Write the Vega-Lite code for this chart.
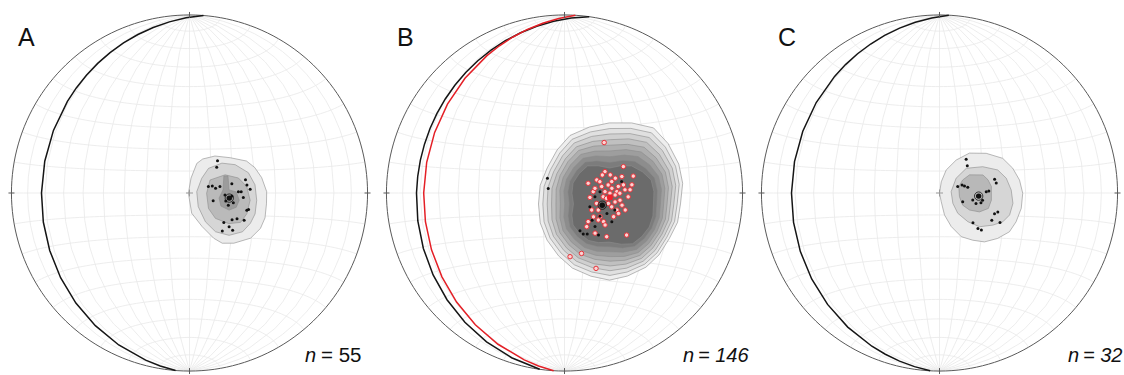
{
  "$schema": "https://vega.github.io/schema/vega-lite/v6.json",
  "padding": 0,
  "bounds": "flush",
  "spacing": 0,
  "config": {"view": {"stroke": null}, "font": "Liberation Sans"},
  "resolve": {"scale": {"fill": "independent"}},
  "hconcat": [
    {
      "width": 375, "height": 375,
      "projection": {"type": "azimuthalEqualArea", "scale": 125.9, "translate": [189.5, 193], "clipAngle": 90},
      "layer": [
        {"data": {"graticule": {"step": [10, 10]}}, "mark": {"type": "geoshape", "filled": false, "stroke": "#e9e9e9", "strokeWidth": 0.8}},
        {"data": {"values": [
          {"type": "Feature", "properties": {"level": 1}, "geometry": {"type": "Polygon", "coordinates": [[[6.2,15.5],[12.0,16.8],[19.1,15.9],[26.8,14.2],[30.5,11.2],[33.5,6.7],[35.7,0.6],[35.7,-4.7],[35.4,-10.8],[33.7,-15.5],[29.5,-20.0],[21.6,-22.6],[15.9,-22.8],[11.6,-20.6],[5.9,-15.3],[1.0,-9.2],[-0.5,-0.1],[0.7,6.8],[3.4,13.5],[6.2,15.5]]]}},
          {"type": "Feature", "properties": {"level": 2}, "geometry": {"type": "Polygon", "coordinates": [[[15.1,13.5],[21.3,12.7],[27.3,9.0],[30.2,3.6],[31.0,-3.2],[30.5,-9.2],[28.6,-13.4],[25.2,-17.3],[18.9,-19.1],[12.3,-17.6],[7.4,-13.1],[4.0,-6.2],[3.3,0.6],[5.6,6.7],[8.8,11.2],[15.1,13.5]]]}},
          {"type": "Feature", "properties": {"level": 3}, "geometry": {"type": "Polygon", "coordinates": [[[16.4,8.2],[22.5,6.7],[26.3,2.9],[27.9,-3.2],[26.6,-9.2],[23.9,-13.1],[18.4,-13.8],[12.0,-11.5],[8.7,-7.0],[7.8,-0.1],[9.4,5.9],[16.4,8.2]]]}},
          {"type": "Feature", "properties": {"level": 4}, "geometry": {"type": "Polygon", "coordinates": [[[15.8,7.7],[17.7,7.7],[18.1,1.4],[21.4,0.5],[22.8,-3.2],[21.5,-6.4],[18.2,-7.7],[14.4,-5.9],[13.5,-2.3],[15.3,1.4],[15.8,7.7]]]}}
        ]},
         "mark": {"type": "geoshape", "stroke": "#8c8c8c", "strokeWidth": 0.6},
         "encoding": {"fill": {"field": "properties.level", "type": "ordinal", "scale": {"domain": [1, 2, 3, 4], "range": ["#ececec", "#d6d6d6", "#bababa", "#9c9c9c"]}, "legend": null}}},
        {"data": {"sphere": true}, "mark": {"type": "geoshape", "filled": false, "stroke": "#5a5a5a", "strokeWidth": 1}},
        {"data": {"values": [{"type": "Feature", "properties": {"plane": "P"}, "geometry": {"type": "LineString", "coordinates": [[90,85.5],[-72,0],[-90,-85.5]]}}]},
         "mark": {"type": "geoshape", "filled": false, "stroke": "#151515", "strokeWidth": 1.5}},
        {"data": {"values": [{"lon": 0, "lat": 89.99}, {"lon": 0, "lat": -89.99}]},
         "mark": {"type": "point", "shape": "M0,-1L0,1", "size": 36, "filled": false, "stroke": "#5a5a5a", "strokeWidth": 1, "opacity": 1},
         "encoding": {"longitude": {"field": "lon", "type": "quantitative"}, "latitude": {"field": "lat", "type": "quantitative"}}},
        {"data": {"values": [{"lon": 89.99, "lat": 0}, {"lon": -89.99, "lat": 0}]},
         "mark": {"type": "point", "shape": "M-1,0L1,0", "size": 36, "filled": false, "stroke": "#5a5a5a", "strokeWidth": 1, "opacity": 1},
         "encoding": {"longitude": {"field": "lon", "type": "quantitative"}, "latitude": {"field": "lat", "type": "quantitative"}}},
        {"data": {"values": [{"lon": 0, "lat": 0}]},
         "mark": {"type": "point", "shape": "M-1,0L1,0M0,-1L0,1", "size": 49, "filled": false, "stroke": "#9a9a9a", "strokeWidth": 1, "opacity": 1},
         "encoding": {"longitude": {"field": "lon", "type": "quantitative"}, "latitude": {"field": "lat", "type": "quantitative"}}},
        {"data": {"values": [
          {"lon":13.1,"lat":14.6},{"lon":12.6,"lat":11.7},{"lon":25.8,"lat":5.9},{"lon":26.4,"lat":3.6},{"lon":8.6,"lat":2.9},{"lon":10.4,"lat":3.2},{"lon":11.9,"lat":2.1},{"lon":13.9,"lat":2.9},{"lon":19.4,"lat":4.1},{"lon":22.4,"lat":0.6},{"lon":23.7,"lat":0.6},{"lon":27.9,"lat":1.7},{"lon":10.8,"lat":-3.5},{"lon":24.7,"lat":-2.0},{"lon":17.8,"lat":-5.5},{"lon":20.1,"lat":-4.4},{"lon":26.5,"lat":-7.7},{"lon":27.3,"lat":-7.3},{"lon":22.1,"lat":-11.5},{"lon":19.8,"lat":-12.0},{"lon":25.5,"lat":-12.1},{"lon":16.0,"lat":-13.3},{"lon":18.6,"lat":-15.2},{"lon":15.5,"lat":-17.2},{"lon":20.4,"lat":-16.7},{"lon":16.2,"lat":-0.9},{"lon":19.4,"lat":-1.4},{"lon":16.6,"lat":-3.6}
        ]},
         "mark": {"type": "circle", "size": 9, "color": "#111111", "opacity": 1},
         "encoding": {"longitude": {"field": "lon", "type": "quantitative"}, "latitude": {"field": "lat", "type": "quantitative"}}},
        {"data": {"values": [{"lon": 18.2, "lat": -2.3}]},
         "mark": {"type": "point", "size": 70, "filled": false, "stroke": "#111111", "strokeWidth": 0.8, "opacity": 1},
         "encoding": {"longitude": {"field": "lon", "type": "quantitative"}, "latitude": {"field": "lat", "type": "quantitative"}}},
        {"data": {"values": [{"lon": 18.2, "lat": -2.3}]},
         "mark": {"type": "circle", "size": 30, "color": "#111111", "opacity": 1},
         "encoding": {"longitude": {"field": "lon", "type": "quantitative"}, "latitude": {"field": "lat", "type": "quantitative"}}},
        {"data": {"values": [{"t": "A"}]},
         "mark": {"type": "text", "x": 18, "y": 45.5, "align": "left", "baseline": "alphabetic", "fontSize": 25, "color": "#111111"},
         "encoding": {"text": {"field": "t"}}},
        {"data": {"values": [{"t": "n"}]},
         "mark": {"type": "text", "x": 316, "y": 362, "align": "right", "baseline": "alphabetic", "fontSize": 20, "fontStyle": "italic", "color": "#111111"},
         "encoding": {"text": {"field": "t"}}},
        {"data": {"values": [{"t": "= 55"}]},
         "mark": {"type": "text", "x": 321, "y": 362, "align": "left", "baseline": "alphabetic", "fontSize": 20.5, "color": "#111111"},
         "encoding": {"text": {"field": "t"}}}
      ]
    },
    {
      "width": 375, "height": 375,
      "projection": {"type": "azimuthalEqualArea", "scale": 125.9, "translate": [194.5, 193], "clipAngle": 90},
      "layer": [
        {"data": {"graticule": {"step": [10, 10]}}, "mark": {"type": "geoshape", "filled": false, "stroke": "#e9e9e9", "strokeWidth": 0.8}},
        {"data": {"values": [{"lon": 0, "lat": 0}]},
         "mark": {"type": "point", "shape": "M-1,0L1,0M0,-1L0,1", "size": 49, "filled": false, "stroke": "#9a9a9a", "strokeWidth": 1, "opacity": 1},
         "encoding": {"longitude": {"field": "lon", "type": "quantitative"}, "latitude": {"field": "lat", "type": "quantitative"}}},
        {"data": {"values": [
          {"type": "Feature", "properties": {"level": 1}, "geometry": {"type": "Polygon", "coordinates": [[[23.3,31.7],[35.0,30.9],[45.9,27.7],[51.4,20.5],[55.0,11.7],[56.1,3.9],[55.0,-4.4],[54.4,-11.9],[51.6,-18.8],[48.3,-26.1],[43.3,-32.0],[34.7,-36.9],[25.3,-39.6],[14.5,-38.3],[4.2,-34.7],[-3.0,-28.9],[-8.4,-21.5],[-11.3,-13.6],[-11.9,-5.0],[-11.1,3.5],[-8.0,11.4],[-3.5,19.7],[2.7,26.4],[12.7,30.2],[23.3,31.7]]]}},
          {"type": "Feature", "properties": {"level": 2}, "geometry": {"type": "Polygon", "coordinates": [[[23.0,29.1],[33.9,28.5],[44.1,25.7],[49.6,19.1],[53.2,10.9],[54.3,3.5],[53.3,-4.4],[52.8,-11.6],[50.2,-18.3],[47.0,-25.3],[42.1,-30.8],[33.9,-35.1],[24.9,-37.4],[14.7,-36.3],[5.1,-33.1],[-1.7,-27.6],[-6.9,-20.6],[-9.5,-13.1],[-9.9,-5.0],[-9.3,3.0],[-6.5,10.5],[-2.2,18.3],[3.7,24.6],[13.0,27.9],[23.0,29.1]]]}},
          {"type": "Feature", "properties": {"level": 3}, "geometry": {"type": "Polygon", "coordinates": [[[22.7,26.6],[32.9,26.2],[42.3,23.8],[47.7,17.8],[51.4,10.2],[52.5,3.1],[51.6,-4.5],[51.2,-11.4],[48.8,-17.8],[45.6,-24.4],[40.8,-29.6],[33.0,-33.4],[24.4,-35.2],[15.0,-34.3],[6.1,-31.4],[-0.4,-26.3],[-5.3,-19.8],[-7.6,-12.7],[-7.9,-5.0],[-7.5,2.6],[-5.0,9.7],[-0.9,17.0],[4.7,22.9],[13.4,25.8],[22.7,26.6]]]}},
          {"type": "Feature", "properties": {"level": 4}, "geometry": {"type": "Polygon", "coordinates": [[[22.4,24.0],[31.8,23.9],[40.5,21.8],[45.8,16.3],[49.5,9.4],[50.7,2.7],[49.9,-4.5],[49.6,-11.1],[47.4,-17.2],[44.2,-23.4],[39.6,-28.4],[32.1,-31.6],[24.0,-33.0],[15.3,-32.4],[7.0,-29.8],[0.9,-25.1],[-3.8,-18.9],[-5.8,-12.2],[-5.9,-5.0],[-5.7,2.1],[-3.5,8.8],[0.4,15.6],[5.7,21.1],[13.8,23.5],[22.4,24.0]]]}},
          {"type": "Feature", "properties": {"level": 5}, "geometry": {"type": "Polygon", "coordinates": [[[22.1,21.5],[30.7,21.5],[38.7,19.8],[43.9,14.9],[47.7,8.7],[48.8,2.3],[48.2,-4.6],[48.0,-10.9],[46.0,-16.7],[42.8,-22.6],[38.3,-27.2],[31.2,-29.9],[23.5,-30.8],[15.5,-30.3],[7.9,-28.1],[2.2,-23.8],[-2.2,-18.1],[-3.9,-11.8],[-3.9,-5.0],[-3.8,1.7],[-2.0,8.0],[1.6,14.3],[6.7,19.4],[14.1,21.3],[22.1,21.5]]]}},
          {"type": "Feature", "properties": {"level": 6}, "geometry": {"type": "Polygon", "coordinates": [[[21.8,18.9],[29.6,19.2],[36.9,17.8],[42.1,13.5],[45.9,7.9],[47.0,1.9],[46.5,-4.6],[46.4,-10.6],[44.6,-16.2],[41.5,-21.7],[37.1,-26.0],[30.4,-28.2],[23.1,-28.7],[15.7,-28.4],[8.8,-26.5],[3.4,-22.5],[-0.7,-17.2],[-2.1,-11.3],[-1.9,-5.0],[-2.1,1.2],[-0.6,7.1],[2.9,12.9],[7.7,17.6],[14.5,19.0],[21.8,18.9]]]}},
          {"type": "Feature", "properties": {"level": 7}, "geometry": {"type": "Polygon", "coordinates": [[[21.5,16.3],[28.5,16.8],[35.0,15.9],[40.2,12.1],[44.1,7.1],[45.3,1.5],[44.9,-4.6],[44.8,-10.3],[43.2,-15.6],[40.2,-20.7],[35.9,-24.7],[29.5,-26.3],[22.7,-26.5],[16.0,-26.5],[9.8,-24.9],[4.8,-21.2],[0.9,-16.3],[-0.3,-10.9],[0.1,-5.0],[-0.3,0.8],[0.9,6.2],[4.2,11.5],[8.7,15.8],[14.8,16.8],[21.5,16.3]]]}},
          {"type": "Feature", "properties": {"level": 8}, "geometry": {"type": "Polygon", "coordinates": [[[21.2,13.8],[27.4,14.5],[33.2,13.9],[38.2,10.7],[42.2,6.4],[43.4,1.0],[43.2,-4.7],[43.2,-10.1],[41.8,-15.1],[38.8,-19.8],[34.6,-23.5],[28.6,-24.6],[22.2,-24.3],[16.2,-24.4],[10.7,-23.2],[6.0,-19.9],[2.5,-15.5],[1.6,-10.5],[2.1,-5.0],[1.5,0.4],[2.4,5.4],[5.5,10.2],[9.7,14.1],[15.2,14.6],[21.2,13.8]]]}},
          {"type": "Feature", "properties": {"level": 9}, "geometry": {"type": "Polygon", "coordinates": [[[20.9,11.2],[26.3,12.1],[31.4,11.9],[36.4,9.2],[40.4,5.6],[41.6,0.6],[41.5,-4.7],[41.6,-9.8],[40.4,-14.6],[37.4,-18.9],[33.4,-22.3],[27.8,-22.8],[21.8,-22.1],[16.5,-22.5],[11.6,-21.6],[7.3,-18.6],[4.0,-14.6],[3.4,-10.0],[4.1,-5.0],[3.4,-0.1],[3.9,4.5],[6.8,8.9],[10.7,12.3],[15.6,12.3],[20.9,11.2]]]}}
        ]},
         "mark": {"type": "geoshape", "stroke": "#8c8c8c", "strokeWidth": 0.6},
         "encoding": {"fill": {"field": "properties.level", "type": "ordinal", "scale": {"domain": [1, 2, 3, 4, 5, 6, 7, 8, 9], "range": ["#eeeeee", "#e0e0e0", "#d0d0d0", "#c0c0c0", "#afafaf", "#9e9e9e", "#8d8d8d", "#7c7c7c", "#6b6b6b"]}, "legend": null}}},
        {"data": {"sphere": true}, "mark": {"type": "geoshape", "filled": false, "stroke": "#5a5a5a", "strokeWidth": 1}},
        {"data": {"values": [{"type": "Feature", "properties": {"plane": "P"}, "geometry": {"type": "LineString", "coordinates": [[90,82],[-72,0],[-90,-82]]}}]},
         "mark": {"type": "geoshape", "filled": false, "stroke": "#151515", "strokeWidth": 1.5}},
        {"data": {"values": [{"type": "Feature", "properties": {"plane": "Q"}, "geometry": {"type": "LineString", "coordinates": [[90,86.5],[-68,0],[-90,-86.5]]}}]},
         "mark": {"type": "geoshape", "filled": false, "stroke": "#e41f26", "strokeWidth": 1.5}},
        {"data": {"values": [{"lon": 0, "lat": 89.99}, {"lon": 0, "lat": -89.99}]},
         "mark": {"type": "point", "shape": "M0,-1L0,1", "size": 36, "filled": false, "stroke": "#5a5a5a", "strokeWidth": 1, "opacity": 1},
         "encoding": {"longitude": {"field": "lon", "type": "quantitative"}, "latitude": {"field": "lat", "type": "quantitative"}}},
        {"data": {"values": [{"lon": 89.99, "lat": 0}, {"lon": -89.99, "lat": 0}]},
         "mark": {"type": "point", "shape": "M-1,0L1,0", "size": 36, "filled": false, "stroke": "#5a5a5a", "strokeWidth": 1, "opacity": 1},
         "encoding": {"longitude": {"field": "lon", "type": "quantitative"}, "latitude": {"field": "lat", "type": "quantitative"}}},
        {"data": {"values": [
          {"lon":19.3,"lat":22.8},{"lon":27.5,"lat":11.7},{"lon":31.9,"lat":7.4},{"lon":18.7,"lat":9.6},{"lon":17.4,"lat":8.1},{"lon":14.8,"lat":5.9},{"lon":10.8,"lat":4.4},{"lon":21.1,"lat":8.1},{"lon":23.4,"lat":6.6},{"lon":21.7,"lat":5.1},{"lon":24.7,"lat":2.9},{"lon":27.8,"lat":1.4},{"lon":30.2,"lat":1.4},{"lon":31.1,"lat":3.6},{"lon":27.1,"lat":3.6},{"lon":24.0,"lat":0.6},{"lon":20.8,"lat":-0.1},{"lon":18.5,"lat":0.6},{"lon":17.7,"lat":-1.7},{"lon":13.1,"lat":0.6},{"lon":11.6,"lat":-2.0},{"lon":14.7,"lat":-4.7},{"lon":23.2,"lat":-4.0},{"lon":25.5,"lat":-3.2},{"lon":26.5,"lat":-5.4},{"lon":24.2,"lat":-7.6},{"lon":22.8,"lat":-10.6},{"lon":16.5,"lat":-10.7},{"lon":13.4,"lat":-10.8},{"lon":11.0,"lat":-13.0},{"lon":10.4,"lat":-15.3},{"lon":15.7,"lat":-12.2},{"lon":18.2,"lat":-12.9},{"lon":19.0,"lat":-14.4},{"lon":14.5,"lat":-18.2},{"lon":20.2,"lat":-19.7},{"lon":29.8,"lat":-18.6},{"lon":2.8,"lat":-29.3},{"lon":8.5,"lat":-27.7},{"lon":16.7,"lat":-34.5},{"lon":23.2,"lat":-0.9},{"lon":29.3,"lat":-1.7},{"lon":21.7,"lat":2.1},{"lon":20.1,"lat":-4.7},{"lon":25.0,"lat":-9.1},{"lon":28.1,"lat":-7.5},{"lon":17.0,"lat":2.9},{"lon":13.9,"lat":2.1},{"lon":20.0,"lat":3.6},{"lon":16.2,"lat":5.1},{"lon":25.4,"lat":-0.1},{"lon":21.7,"lat":-6.2},{"lon":19.2,"lat":-2.4},{"lon":15.5,"lat":-7.7},{"lon":12.5,"lat":-7.7},{"lon":26.5,"lat":7.3}
        ]},
         "mark": {"type": "point", "shape": "circle", "size": 20, "filled": true, "fill": "#fbd3d3", "stroke": "#e8333a", "strokeWidth": 1, "opacity": 1},
         "encoding": {"longitude": {"field": "lon", "type": "quantitative"}, "latitude": {"field": "lat", "type": "quantitative"}}},
        {"data": {"values": [
          {"lon":-7.8,"lat":6.7},{"lon":-7.4,"lat":2.1},{"lon":16.2,"lat":0.6},{"lon":23.2,"lat":-7.6},{"lon":7.3,"lat":-17.2},{"lon":8.9,"lat":-18.7},{"lon":10.8,"lat":-18.7},{"lon":16.2,"lat":-19.0},{"lon":14.3,"lat":-15.2},{"lon":19.6,"lat":-9.2},{"lon":26.3,"lat":5.1},{"lon":13.9,"lat":-1.7},{"lon":16.4,"lat":-10.5},{"lon":22.1,"lat":-12.9},{"lon":12.8,"lat":-12.3},{"lon":11.6,"lat":-6.2}
        ]},
         "mark": {"type": "circle", "size": 9, "color": "#111111", "opacity": 1},
         "encoding": {"longitude": {"field": "lon", "type": "quantitative"}, "latitude": {"field": "lat", "type": "quantitative"}}},
        {"data": {"values": [{"lon": 20.8, "lat": -2.0}]},
         "mark": {"type": "circle", "size": 36, "color": "#f0202a", "opacity": 1},
         "encoding": {"longitude": {"field": "lon", "type": "quantitative"}, "latitude": {"field": "lat", "type": "quantitative"}}},
        {"data": {"values": [{"lon": 17.3, "lat": -5.5}]},
         "mark": {"type": "point", "size": 70, "filled": false, "stroke": "#111111", "strokeWidth": 0.8, "opacity": 1},
         "encoding": {"longitude": {"field": "lon", "type": "quantitative"}, "latitude": {"field": "lat", "type": "quantitative"}}},
        {"data": {"values": [{"lon": 17.3, "lat": -5.5}]},
         "mark": {"type": "circle", "size": 30, "color": "#111111", "opacity": 1},
         "encoding": {"longitude": {"field": "lon", "type": "quantitative"}, "latitude": {"field": "lat", "type": "quantitative"}}},
        {"data": {"values": [{"t": "B"}]},
         "mark": {"type": "text", "x": 22, "y": 45.5, "align": "left", "baseline": "alphabetic", "fontSize": 25, "color": "#111111"},
         "encoding": {"text": {"field": "t"}}},
        {"data": {"values": [{"t": "n"}]},
         "mark": {"type": "text", "x": 319, "y": 362, "align": "right", "baseline": "alphabetic", "fontSize": 20, "fontStyle": "italic", "color": "#111111"},
         "encoding": {"text": {"field": "t"}}},
        {"data": {"values": [{"t": "= 146"}]},
         "mark": {"type": "text", "x": 323, "y": 362, "align": "left", "baseline": "alphabetic", "fontSize": 20, "fontStyle": "italic", "color": "#111111"},
         "encoding": {"text": {"field": "t"}}}
      ]
    },
    {
      "width": 375, "height": 375,
      "projection": {"type": "azimuthalEqualArea", "scale": 125.9, "translate": [200, 193], "clipAngle": 90},
      "layer": [
        {"data": {"graticule": {"step": [10, 10]}}, "mark": {"type": "geoshape", "filled": false, "stroke": "#e9e9e9", "strokeWidth": 0.8}},
        {"data": {"values": [
          {"type": "Feature", "properties": {"level": 1}, "geometry": {"type": "Polygon", "coordinates": [[[14.2,18.1],[22.2,17.8],[29.9,15.3],[34.3,10.8],[37.2,5.6],[38.6,-0.1],[38.1,-6.6],[36.1,-12.5],[33.4,-17.0],[28.0,-20.2],[21.8,-22.0],[16.0,-21.4],[10.4,-19.9],[5.5,-15.3],[2.3,-10.0],[0.8,-4.0],[0.0,-0.1],[0.8,5.1],[3.1,10.5],[7.8,15.0],[14.2,18.1]]]}},
          {"type": "Feature", "properties": {"level": 2}, "geometry": {"type": "Polygon", "coordinates": [[[12.4,11.2],[20.1,11.8],[27.1,10.2],[30.9,6.5],[33.1,1.3],[34.0,-4.5],[32.7,-9.6],[29.7,-12.7],[25.1,-14.3],[18.8,-15.2],[13.2,-13.0],[8.4,-9.2],[6.1,-4.7],[5.3,0.6],[7.6,6.7],[12.4,11.2]]]}},
          {"type": "Feature", "properties": {"level": 3}, "geometry": {"type": "Polygon", "coordinates": [[[13.8,8.2],[20.0,8.1],[22.3,5.9],[23.8,2.9],[23.8,-3.2],[22.5,-6.9],[18.4,-8.5],[13.8,-7.7],[10.6,-5.5],[9.1,-1.7],[8.8,2.9],[10.6,5.9],[13.8,8.2]]]}}
        ]},
         "mark": {"type": "geoshape", "stroke": "#8c8c8c", "strokeWidth": 0.6},
         "encoding": {"fill": {"field": "properties.level", "type": "ordinal", "scale": {"domain": [1, 2, 3], "range": ["#ececec", "#d6d6d6", "#b8b8b8"]}, "legend": null}}},
        {"data": {"sphere": true}, "mark": {"type": "geoshape", "filled": false, "stroke": "#5a5a5a", "strokeWidth": 1}},
        {"data": {"values": [{"type": "Feature", "properties": {"plane": "P"}, "geometry": {"type": "LineString", "coordinates": [[90,87],[-72,0],[-90,-87]]}}]},
         "mark": {"type": "geoshape", "filled": false, "stroke": "#151515", "strokeWidth": 1.5}},
        {"data": {"values": [{"lon": 0, "lat": 89.99}, {"lon": 0, "lat": -89.99}]},
         "mark": {"type": "point", "shape": "M0,-1L0,1", "size": 36, "filled": false, "stroke": "#5a5a5a", "strokeWidth": 1, "opacity": 1},
         "encoding": {"longitude": {"field": "lon", "type": "quantitative"}, "latitude": {"field": "lat", "type": "quantitative"}}},
        {"data": {"values": [{"lon": 89.99, "lat": 0}, {"lon": -89.99, "lat": 0}]},
         "mark": {"type": "point", "shape": "M-1,0L1,0", "size": 36, "filled": false, "stroke": "#5a5a5a", "strokeWidth": 1, "opacity": 1},
         "encoding": {"longitude": {"field": "lon", "type": "quantitative"}, "latitude": {"field": "lat", "type": "quantitative"}}},
        {"data": {"values": [{"lon": 0, "lat": 0}]},
         "mark": {"type": "point", "shape": "M-1,0L1,0M0,-1L0,1", "size": 49, "filled": false, "stroke": "#9a9a9a", "strokeWidth": 1, "opacity": 1},
         "encoding": {"longitude": {"field": "lon", "type": "quantitative"}, "latitude": {"field": "lat", "type": "quantitative"}}},
        {"data": {"values": [
          {"lon":12.5,"lat":15.3},{"lon":12.9,"lat":12.3},{"lon":25.4,"lat":6.1},{"lon":26.1,"lat":4.4},{"lon":8.3,"lat":2.9},{"lon":10.3,"lat":3.6},{"lon":11.4,"lat":3.2},{"lon":12.9,"lat":2.6},{"lon":21.4,"lat":0.6},{"lon":22.6,"lat":0.9},{"lon":10.6,"lat":-4.0},{"lon":15.2,"lat":-3.2},{"lon":16.7,"lat":-4.7},{"lon":19.0,"lat":-4.4},{"lon":19.7,"lat":-3.2},{"lon":27.0,"lat":-8.4},{"lon":25.5,"lat":-9.2},{"lon":24.4,"lat":-12.1},{"lon":15.6,"lat":-13.5},{"lon":18.1,"lat":-16.0},{"lon":19.8,"lat":-16.7},{"lon":28.4,"lat":-13.1}
        ]},
         "mark": {"type": "circle", "size": 9, "color": "#111111", "opacity": 1},
         "encoding": {"longitude": {"field": "lon", "type": "quantitative"}, "latitude": {"field": "lat", "type": "quantitative"}}},
        {"data": {"values": [{"lon": 17.9, "lat": -1.4}]},
         "mark": {"type": "point", "size": 70, "filled": false, "stroke": "#111111", "strokeWidth": 0.8, "opacity": 1},
         "encoding": {"longitude": {"field": "lon", "type": "quantitative"}, "latitude": {"field": "lat", "type": "quantitative"}}},
        {"data": {"values": [{"lon": 17.9, "lat": -1.4}]},
         "mark": {"type": "circle", "size": 30, "color": "#111111", "opacity": 1},
         "encoding": {"longitude": {"field": "lon", "type": "quantitative"}, "latitude": {"field": "lat", "type": "quantitative"}}},
        {"data": {"values": [{"t": "C"}]},
         "mark": {"type": "text", "x": 28, "y": 45.5, "align": "left", "baseline": "alphabetic", "fontSize": 25, "color": "#111111"},
         "encoding": {"text": {"field": "t"}}},
        {"data": {"values": [{"t": "n"}]},
         "mark": {"type": "text", "x": 329, "y": 362, "align": "right", "baseline": "alphabetic", "fontSize": 20, "fontStyle": "italic", "color": "#111111"},
         "encoding": {"text": {"field": "t"}}},
        {"data": {"values": [{"t": "= 32"}]},
         "mark": {"type": "text", "x": 333, "y": 362, "align": "left", "baseline": "alphabetic", "fontSize": 20, "fontStyle": "italic", "color": "#111111"},
         "encoding": {"text": {"field": "t"}}}
      ]
    }
  ]
}
